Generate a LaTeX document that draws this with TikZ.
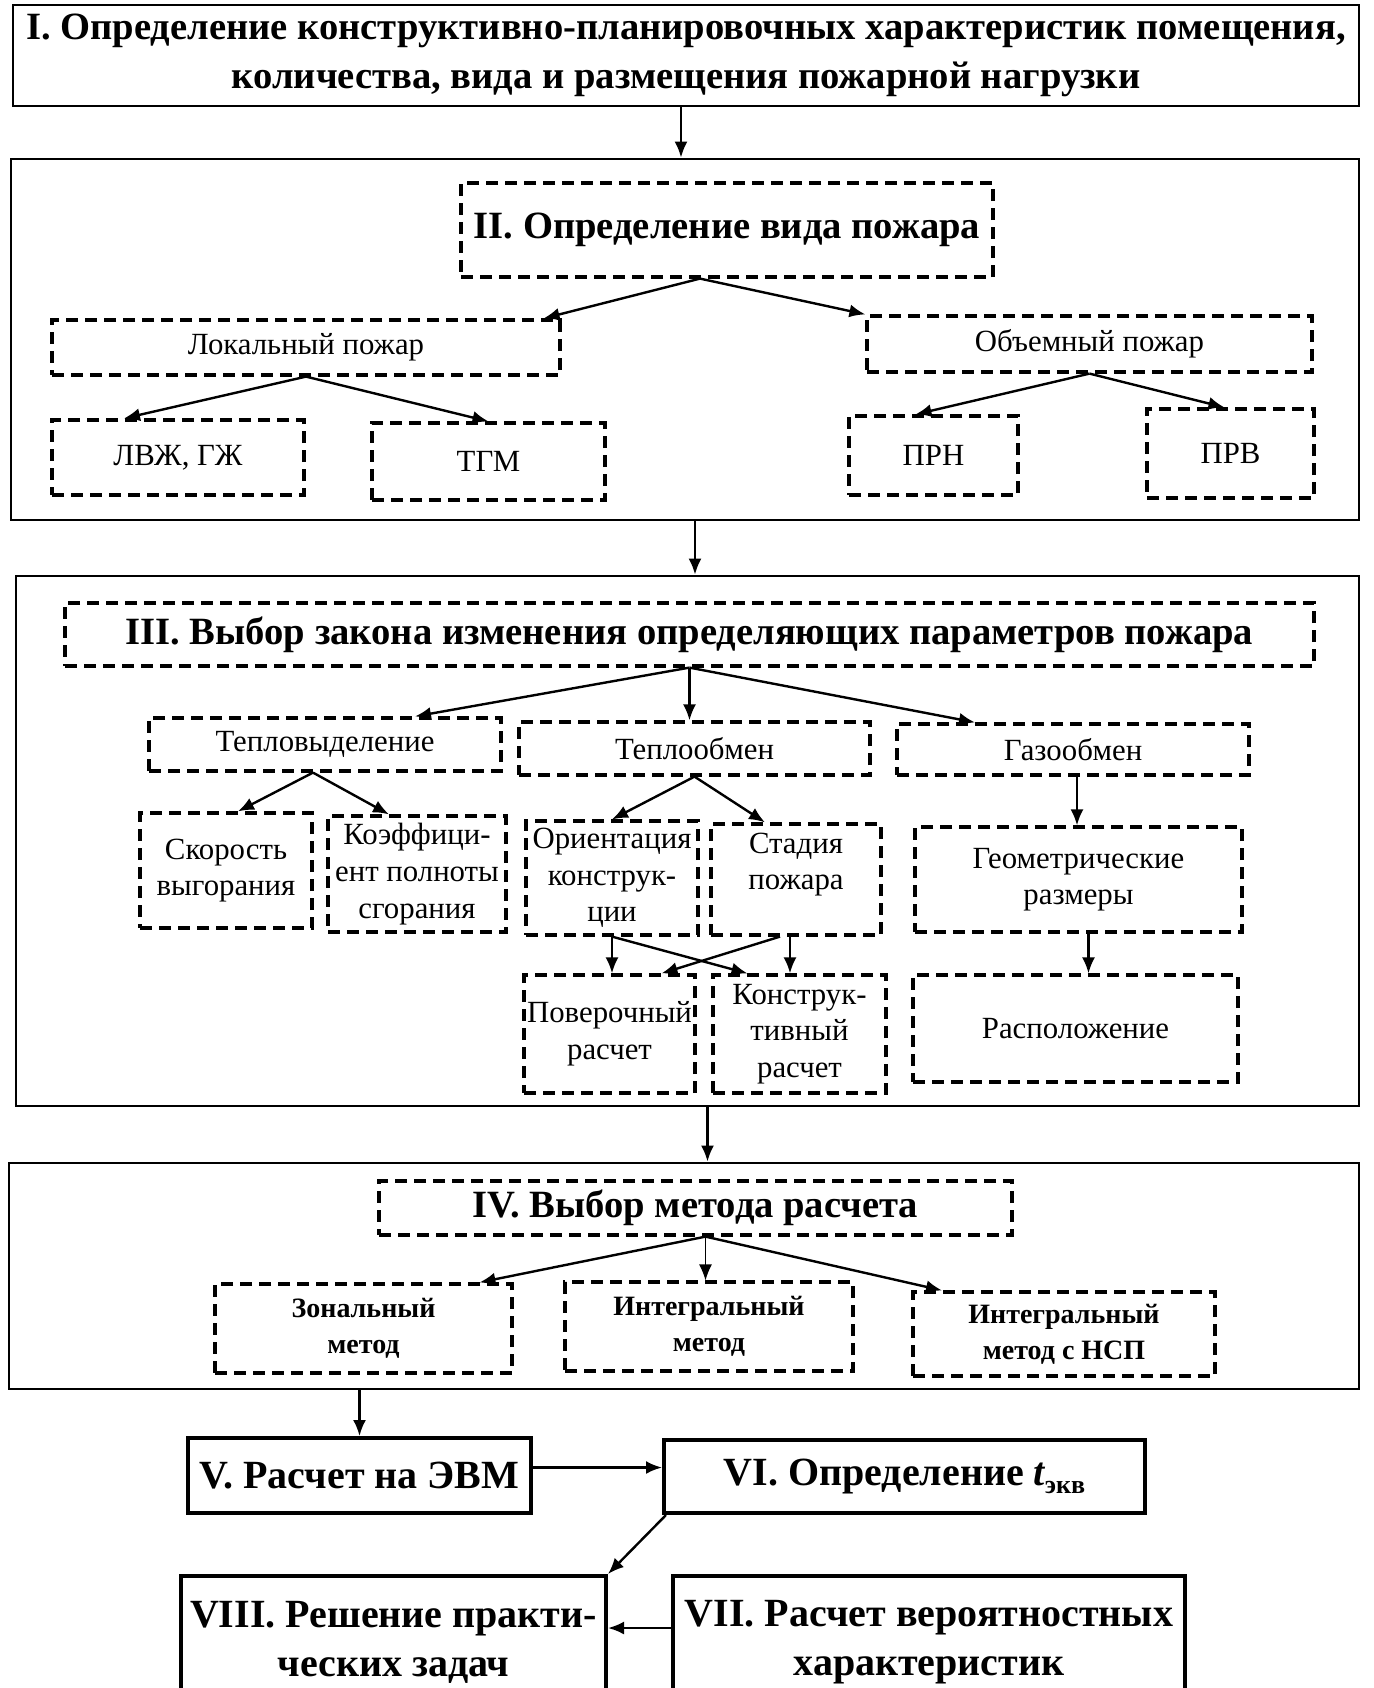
\documentclass[tikz,border=0pt]{standalone}
\usepackage{fontspec}
\setmainfont{Liberation Serif}
\usetikzlibrary{arrows.meta}
\begin{document}
\begin{tikzpicture}[x=0.5pt, y=-0.5pt, >={Latex[length=8pt,width=6.5pt]},
    outer/.style={draw, line width=1.4pt, inner sep=0pt},
    solidbox/.style={draw, line width=2pt, inner sep=0pt, align=center, font=\bfseries\fontsize{20}{24.5}\selectfont},
    dbox/.style={draw, line width=1.6pt, dash pattern=on 6pt off 3.5pt, inner sep=0pt, align=center, font=\fontsize{15.4}{18.3}\selectfont},
    headbox/.style={dbox, font=\bfseries\fontsize{19.3}{24}\selectfont},
    methbox/.style={dbox, font=\bfseries\fontsize{14}{18}\selectfont},
    arr/.style={->, line width=1.2pt}]
    \clip (0,0) rectangle (1373,1688);

    \node[solidbox, line width=1.4pt, minimum width=673pt, minimum height=50.5pt, font=\bfseries\fontsize{19.3}{24.5}\selectfont] at (686,55.5)(one){I. Определение конструктивно-планировочных характеристик помещения,\\количества, вида и размещения пожарной нагрузки};

    \node[outer, minimum width=674pt, minimum height=180.5pt] at (685,339.5)(two){};
    \node[headbox, minimum width=266pt, minimum height=47pt] at (727,230)(kind){II. Определение вида пожара};
    \node[dbox, minimum width=254pt, minimum height=27.5pt] at (306,347.5)(local){Локальный пожар};
    \node[dbox, minimum width=222.5pt, minimum height=28pt] at (1089.5,344)(vol){Объемный пожар};
    \node[dbox, minimum width=126pt, minimum height=37.5pt] at (178,457.5)(lvzh){ЛВЖ, ГЖ};
    \node[dbox, minimum width=116.5pt, minimum height=38.5pt] at (488.5,461.5)(tgm){ТГМ};
    \node[dbox, minimum width=84.5pt, minimum height=39.5pt] at (933.5,455.5)(prn){ПРН};
    \node[dbox, minimum width=83.5pt, minimum height=44.5pt] at (1230.5,453.5)(prv){ПРВ};

    \node[outer, minimum width=671.5pt, minimum height=265pt] at (687.5,841)(three){};
    \node[headbox, minimum width=624.5pt, minimum height=31.5pt] at (689.5,634.5)(law){III. Выбор закона изменения определяющих параметров пожара};
    \node[dbox, minimum width=176pt, minimum height=26.5pt] at (325,744.5)(heat){Тепловыделение};
    \node[dbox, minimum width=175.5pt, minimum height=26.5pt] at (694.5,748.5)(exch){Теплообмен};
    \node[dbox, minimum width=176pt, minimum height=25.5pt] at (1073,749.5)(gas){Газообмен};
    \node[dbox, minimum width=86pt, minimum height=57.5pt] at (226,870.5)(rate){Скорость\\выгорания};
    \node[dbox, minimum width=89pt, minimum height=58pt] at (417,874)(coef){Коэффици-\\ент полноты\\сгорания};
    \node[dbox, minimum width=86pt, minimum height=57pt] at (612,878)(orient){Ориентация\\конструк-\\ции};
    \node[dbox, minimum width=85pt, minimum height=55.5pt] at (796,879.5)(stage){Стадия\\пожара\\~};
    \node[dbox, minimum width=163.5pt, minimum height=52.5pt] at (1078.5,879.5)(geom){Геометрические\\размеры};
    \node[dbox, minimum width=85.5pt, minimum height=59pt] at (609.5,1034)(check){Поверочный\\расчет};
    \node[dbox, minimum width=86.5pt, minimum height=59pt] at (799.5,1034)(design){Конструк-\\тивный\\расчет};
    \node[dbox, minimum width=162.5pt, minimum height=53.5pt] at (1075.5,1028.5)(place){Расположение};

    \node[outer, minimum width=675pt, minimum height=113pt] at (684,1276)(four){};
    \node[headbox, minimum width=316.5pt, minimum height=27pt] at (695.5,1208)(method){IV. Выбор метода расчета};
    \node[methbox, minimum width=148.5pt, minimum height=44.5pt] at (363.5,1328.5)(zone){Зональный\\метод};
    \node[methbox, minimum width=144pt, minimum height=44.5pt] at (709,1326.5)(integ){Интегральный\\метод};
    \node[methbox, minimum width=151pt, minimum height=42pt] at (1064,1334)(nsp){Интегральный\\метод с НСП};

    \node[solidbox, minimum width=171.5pt, minimum height=37.5pt] at (359.5,1475.5)(evm){V. Расчет на ЭВМ};
    \node[solidbox, minimum width=240.5pt, minimum height=36.5pt] at (904.5,1476.5)(teq){VI. Определение {\itshape t}\raisebox{-0.45ex}{\fontsize{13}{13}\selectfont экв}};
    \node[solidbox, minimum width=212.5pt, minimum height=66pt] at (393.5,1642)(tasks){VIII. Решение практи-\\ческих задач};
    \node[solidbox, minimum width=256pt, minimum height=66pt] at (929,1642)(prob){VII. Расчет вероятностных\\характеристик};

    \draw[arr]([xshift=-2.5pt]one.south) -- ([xshift=-2.5pt]one.south |- two.north);
    \draw[arr](kind.south) ++(-13.5pt,0) -- ([xshift=-9pt]local.north east);
    \draw[arr](kind.south) ++(-13.5pt,0) -- (vol.north west);
    \draw[arr](local.south) -- ([xshift=-27pt]lvzh.north);
    \draw[arr](local.south) -- (tgm.north);
    \draw[arr](vol.south) -- ([xshift=-9pt]prn.north);
    \draw[arr](vol.south) -- ([xshift=-3pt]prv.north);

    \draw[arr]([xshift=5pt]two.south) -- ([xshift=5pt]two.south |- three.north);
    \draw[arr](law.south) -- ([xshift=45pt]heat.north);
    \draw[arr](law.south) -- (law.south |- exch.north);
    \draw[arr](law.south) -- ([xshift=-49pt]gas.north);
    \draw[arr]([xshift=-6pt]heat.south) -- ([xshift=6pt]rate.north);
    \draw[arr]([xshift=-6pt]heat.south) -- ([xshift=-14pt]coef.north);
    \draw[arr](exch.south) -- (orient.north);
    \draw[arr](exch.south) -- ([xshift=-15.5pt]stage.north);
    \draw[arr]([xshift=2pt]gas.south) -- ([xshift=2pt]gas.south |- geom.north);
    \draw[arr]([xshift=5pt]geom.south) -- ([xshift=5pt]geom.south |- place.north);
    \draw[arr](orient.south) -- (orient.south |- check.north);
    \draw[arr](orient.south) -- ([xshift=-26pt]design.north);
    \draw[arr]([xshift=-3pt]stage.south) -- ([xshift=-3pt]stage.south |- design.north);
    \draw[arr]([xshift=-8pt]stage.south) -- ([xshift=26pt]check.north);

    \draw[arr]([xshift=10pt]three.south) -- ([xshift=10pt]three.south |- four.north);
    \draw[arr]([xshift=5pt]method.south) -- ([xshift=58pt]zone.north);
    \draw[arr, line width=0.6pt]([xshift=5pt]method.south) -- ([xshift=5pt]method.south |- integ.north);
    \draw[arr]([xshift=5pt]method.south) -- ([xshift=-61pt]nsp.north);

    \draw[arr](evm.north |- four.south) -- (evm.north);
    \draw[arr]([yshift=4pt]evm.east) -- ([yshift=4pt]evm.east -| teq.west);
    \draw[arr]([xshift=2pt]teq.south west) -- (tasks.north east);
    \draw[arr]([yshift=7pt]prob.west) -- ([yshift=7pt]prob.west -| tasks.east);
\end{tikzpicture}
\end{document}
